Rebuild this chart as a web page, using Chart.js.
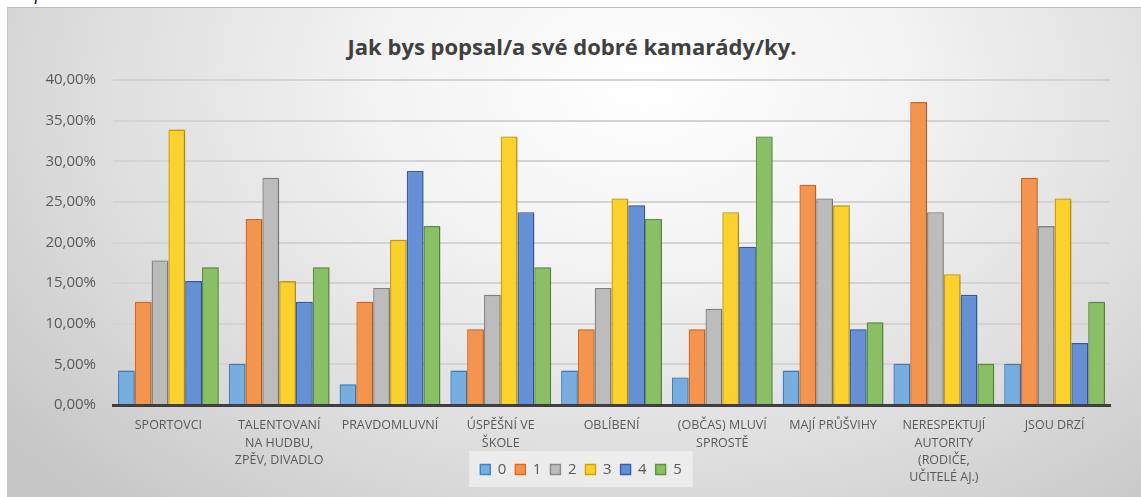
<!DOCTYPE html>
<html>
<head>
<meta charset="utf-8">
<script src="https://cdn.jsdelivr.net/npm/chart.js@4.4.1/dist/chart.umd.min.js"></script>
<style>
  html, body { margin: 0; padding: 0; background: #ffffff; width: 1141px; height: 497px; overflow: hidden; }
  #top { position: absolute; left: 2px; top: -19px; font: italic 20px "Liberation Serif", serif; color: #222; }
  #box { position: absolute; left: 7px; top: 7px; width: 1134px; height: 490px;
    background: radial-gradient(ellipse 72% 115% at 56% 16%, #ffffff 0%, #f3f3f3 32%, #dcdcdc 70%, #c6c6c6 100%);
    border-top: 1px solid #bdbdbd; border-left: 1px solid #c4c4c4; box-sizing: border-box; }
  #title { position: absolute; left: 0; width: 1144px; top: 31px; text-align: center;
    font: bold 22px "Open Sans", sans-serif; color: #404040; line-height: 30px; }
  #wrap { position: absolute; left: 0; top: 0; width: 1141px; height: 497px; }
</style>
</head>
<body>
<div id="top">Graf č. 17</div>
<div id="box"></div>
<div id="title">Jak bys popsal/a své dobré kamarády/ky.</div>
<div id="wrap"><canvas id="c" width="1141" height="497"></canvas></div>
<script>
const categories = [
  ["SPORTOVCI"],
  ["TALENTOVANÍ", "NA HUDBU,", "ZPĚV, DIVADLO"],
  ["PRAVDOMLUVNÍ"],
  ["ÚSPĚŠNÍ VE", "ŠKOLE"],
  ["OBLÍBENÍ"],
  ["(OBČAS) MLUVÍ", "SPROSTĚ"],
  ["MAJÍ PRŮŠVIHY"],
  ["NERESPEKTUJÍ", "AUTORITY", "(RODIČE,", "UČITELÉ AJ.)"],
  ["JSOU DRZÍ"]
];
const seriesNames = ["0", "1", "2", "3", "4", "5"];
const series0 = [4.24, 5.08, 2.54, 4.24, 4.24, 3.39, 4.24, 5.08, 5.08];
const series1 = [12.71, 22.88, 12.71, 9.32, 9.32, 9.32, 27.12, 37.29, 27.97];
const series2 = [17.80, 27.97, 14.41, 13.56, 14.41, 11.86, 25.42, 23.73, 22.03];
const series3 = [33.90, 15.25, 20.34, 33.05, 25.42, 23.73, 24.58, 16.10, 25.42];
const series4 = [15.25, 12.71, 28.81, 23.73, 24.58, 19.49, 9.32, 13.56, 7.63];
const series5 = [16.95, 16.95, 22.03, 16.95, 22.88, 33.05, 10.17, 5.08, 12.71];
const yTicks = [0, 5, 10, 15, 20, 25, 30, 35, 40];

const fills = ["#78ade0", "#f4954f", "#bcbcbc", "#fbd12e", "#6590d6", "#8bbf66"];
const borders = ["#3f85c9", "#e0691c", "#8a8a8a", "#d4a200", "#3260b3", "#5a9638"];
const allSeries = [series0, series1, series2, series3, series4, series5];

const PAD_L = 8, PAD_R = 31, PAD_T = 80, PAD_B = 10;
const PLOT_LEFT = 113, PLOT_BOTTOM = 405;
const LEGEND_CENTER_X = 581;

const helperPlugin = {
  id: 'helper',
  afterLayout(chart) {
    const lg = chart.legend;
    if (lg) {
      const w = lg.right - lg.left;
      lg.left = LEGEND_CENTER_X - w / 2;
      lg.right = lg.left + w;
    }
    const xs = chart.scales.x;
    if (xs) { xs.bottom = chart.height; xs.height = xs.bottom - xs.top; }
  },
  beforeDraw(chart) {
    const lg = chart.legend;
    if (!lg || !lg.legendHitBoxes || !lg.legendHitBoxes.length) return;
    const hb = lg.legendHitBoxes;
    const x0 = hb[0].left - 11, x1 = hb[hb.length - 1].left + hb[hb.length - 1].width + 11;
    const ctx = chart.ctx;
    ctx.save();
    ctx.fillStyle = 'rgba(255,255,255,0.45)';
    ctx.fillRect(x0, lg.top - 2, x1 - x0, lg.height + 2);
    ctx.restore();
  },
  beforeDatasetsDraw(chart) {
    const ctx = chart.ctx;
    ctx.save();
    ctx.shadowColor = 'rgba(0,0,0,0.22)';
    ctx.shadowBlur = 2;
    ctx.shadowOffsetX = 1;
    ctx.shadowOffsetY = 0;
  },
  afterDatasetsDraw(chart) {
    chart.ctx.restore();
  }
};

new Chart(document.getElementById('c'), {
  type: 'bar',
  data: {
    labels: categories,
    datasets: allSeries.map((s, i) => ({
      label: seriesNames[i],
      data: s,
      backgroundColor: fills[i],
      borderColor: borders[i],
      borderWidth: 1.4,
      borderSkipped: 'start',
      categoryPercentage: 0.91,
      barPercentage: 1.0
    }))
  },
  options: {
    responsive: false,
    animation: false,
    devicePixelRatio: 1,
    layout: { padding: { left: PAD_L, right: PAD_R, top: PAD_T, bottom: PAD_B } },
    plugins: {
      title: { display: false },
      tooltip: { enabled: false },
      legend: {
        display: true,
        position: 'bottom',
        labels: {
          boxWidth: 10, boxHeight: 10, padding: 9,
          color: '#595959',
          font: { family: '"Open Sans", sans-serif', size: 15 }
        }
      }
    },
    scales: {
      x: {
        offset: true,
        grid: { display: false, drawTicks: false },
        border: { display: true, color: '#3f3f3f', width: 3 },
        ticks: {
          color: '#595959', padding: 12, maxRotation: 0, autoSkip: false,
          font: { family: '"Open Sans", sans-serif', size: 12.5, lineHeight: '17.3px' }
        },
        afterFit(scale) {
          const lg = scale.chart.legend;
          const lh = lg ? lg.height : 0;
          scale.height = scale.chart.height - PAD_B - lh - PLOT_BOTTOM;
        }
      },
      y: {
        min: 0, max: 40,
        afterBuildTicks(scale) { scale.ticks = yTicks.map(v => ({ value: v })); },
        grid: { color: '#d3d3d3', lineWidth: 2, drawTicks: false },
        border: { display: false },
        ticks: {
          color: '#595959', padding: 17,
          font: { family: '"Open Sans", sans-serif', size: 15 },
          callback: v => v.toFixed(2).replace('.', ',') + '%'
        },
        afterFit(scale) { scale.width = PLOT_LEFT - PAD_L; }
      }
    }
  },
  plugins: [helperPlugin]
});
</script>
</body>
</html>
